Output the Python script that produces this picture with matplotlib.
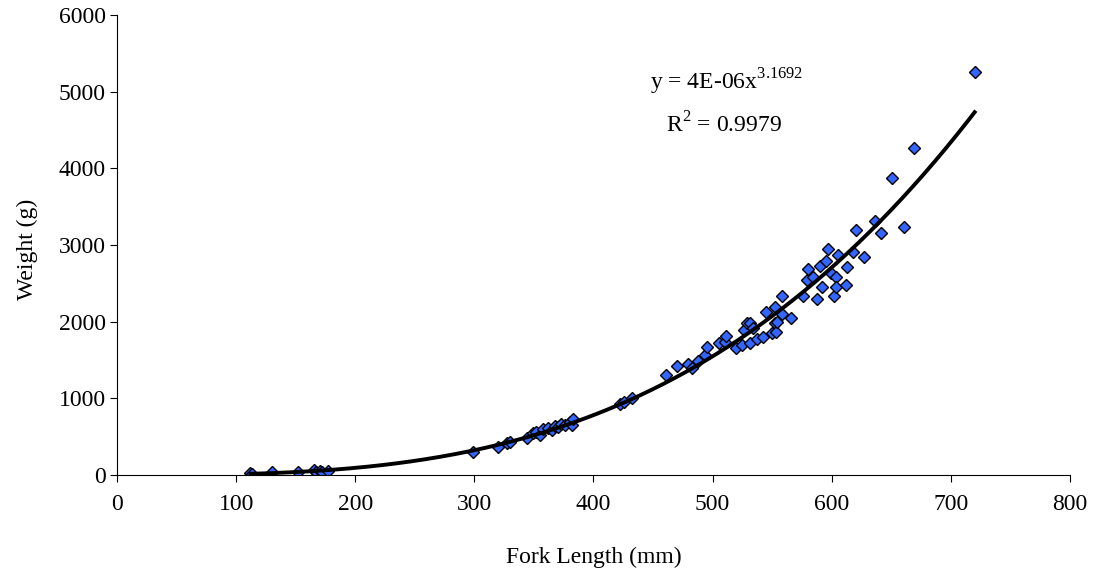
import numpy as np
import matplotlib.pyplot as plt

plt.rcParams['font.family'] = ['Liberation Serif', 'DejaVu Serif']

# Fork length (mm) and weight (g)
fork_length = [112, 113, 130, 152, 165, 167, 170, 172, 177,
               299, 320, 327, 330, 344, 349, 352, 355, 358, 362, 365, 368, 370,
               373, 376, 380, 382, 383,
               422, 426, 432, 461, 470, 479, 483, 488, 494, 495, 505, 510, 511,
               520, 525, 526, 529, 531, 531, 534, 537, 542, 545, 550, 552, 552,
               553, 554, 558, 558, 566, 576, 579, 580, 584, 588, 590, 592, 595,
               597, 599, 602, 604, 604, 605, 612, 613, 618, 620, 627, 636, 641,
               651, 661, 669, 720]
weight = [25, 10, 39, 39, 65, 45, 55, 40, 50,
          300, 365, 417, 430, 483, 548, 560, 520, 600, 610, 590, 640, 620,
          660, 650, 690, 652, 730,
          920, 952, 1000, 1304, 1422, 1448, 1396, 1487, 1565, 1670, 1720, 1735, 1813,
          1656, 1695, 1891, 1982, 1722, 1982, 1917, 1774, 1800, 2126, 1852, 2191, 1982,
          1865, 2000, 2335, 2100, 2048, 2335, 2543, 2687, 2582, 2296, 2726, 2452, 2791,
          2948, 2635, 2335, 2582, 2452, 2870, 2478, 2713, 2909, 3195, 2843, 3313, 3156,
          3874, 3235, 4265, 5256]

x_ticks = [0, 100, 200, 300, 400, 500, 600, 700, 800]
y_ticks = [0, 1000, 2000, 3000, 4000, 5000, 6000]

fork_length = np.array(fork_length, dtype=float)
weight = np.array(weight, dtype=float)

# power trendline fitted in log space
b, log_a = np.polyfit(np.log(fork_length), np.log(weight), 1)
xs = np.linspace(fork_length.min(), fork_length.max(), 200)
ys = np.exp(log_a) * xs ** b

fig = plt.figure(figsize=(10.94, 5.73), dpi=100)
ax = fig.add_axes([0.107, 0.171, 0.871, 0.803])

ax.plot(fork_length, weight, 'D', color='#3366FF', markeredgecolor='black',
        markeredgewidth=1.0, markersize=6.4, zorder=2)
ax.plot(xs, ys, color='black', linewidth=2.8, zorder=3)

ax.set_xlim(0, 800)
ax.set_ylim(0, 6000)
ax.set_xticks(x_ticks)
ax.set_yticks(y_ticks)
ax.tick_params(direction='out', length=5, width=0.8, labelsize=17)
ax.tick_params(axis='x', pad=9)
ax.tick_params(axis='y', pad=3)
for s in ['top', 'right']:
    ax.spines[s].set_visible(False)

ax.set_xlabel('Fork Length (mm)', fontsize=17, va='center')
ax.xaxis.set_label_coords(0.5, -0.178)
ax.set_ylabel('Weight (g)', fontsize=17, va='center')
ax.yaxis.set_label_coords(-0.094, 0.49)

ax.text(576, 5022, r'y = 4E-06x$^{\mathregular{3.1692}}$', fontsize=17, ha='right', va='baseline')
ax.text(558, 4461, r'R$^{\mathregular{2}}$ = 0.9979', fontsize=17, ha='right', va='baseline')

fig.savefig('out.png', dpi=100)
